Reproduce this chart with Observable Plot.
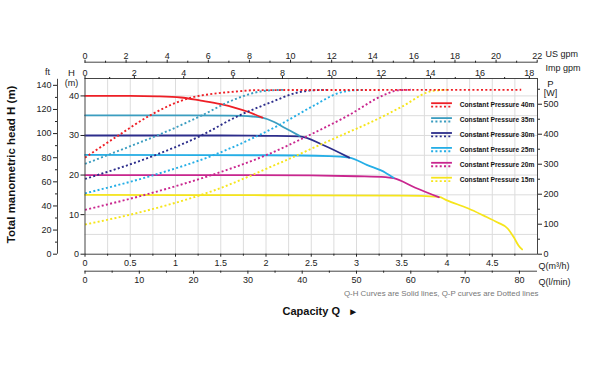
<!DOCTYPE html>
<html><head><meta charset="utf-8">
<script src="https://cdn.jsdelivr.net/npm/d3@7"></script>
<script src="https://cdn.jsdelivr.net/npm/@observablehq/plot@0.6"></script>
<style>
html,body{margin:0;padding:0;background:#fff;}
</style></head><body><div id="chart"></div>
<script>
// ---- series ----
const seriesNames = ["Constant Pressure 40m","Constant Pressure 35m","Constant Pressure 30m","Constant Pressure 25m","Constant Pressure 20m","Constant Pressure 15m"];
const seriesColors = ["#ee1f26","#3b9dc0","#2c2d8b","#25aee6","#c9268e","#f6e51b"];

// Q-H curves (solid): Q in m3/h, H in m
const qh40Q = [0, 0.5, 0.8, 1.06, 1.28, 1.5, 1.66, 1.8, 1.96];
const qh40H = [40.0, 40.0, 39.9, 39.6, 38.8, 37.9, 37.0, 36.0, 34.5];
const qh35Q = [0, 1.0, 1.61, 1.85, 1.96, 2.09, 2.21, 2.37];
const qh35H = [35.1, 35.1, 35.0, 34.8, 34.5, 33.4, 31.9, 29.9];
const qh30Q = [0, 1.5, 2.0, 2.37, 2.63, 2.92];
const qh30H = [30.0, 30.0, 29.9, 29.8, 27.6, 24.4];
const qh25Q = [0, 2.0, 2.7, 2.92, 3.12, 3.32, 3.41];
const qh25H = [25.1, 25.0, 24.8, 24.4, 22.5, 20.6, 19.3];
const qh20Q = [0, 1.5, 2.5, 3.0, 3.32, 3.41, 3.65, 3.91];
const qh20H = [20.0, 20.0, 19.9, 19.7, 19.5, 19.2, 16.8, 14.4];
const qh15Q = [0, 2.0, 3.5, 3.91, 4.0, 4.23, 4.40, 4.56, 4.67, 4.74, 4.79, 4.83];
const qh15H = [15.0, 14.9, 14.8, 14.5, 13.6, 11.6, 9.8, 8.0, 6.5, 4.2, 2.2, 1.2];

// Q-P curves (dotted): Q in m3/h, P in W
const qp40Q = [0, 0.39, 0.72, 1.17, 1.45, 1.66, 1.9, 4.82];
const qp40P = [322, 400, 463, 522, 536, 542, 547, 548];
const qp35Q = [0, 0.5, 0.8, 1.28, 1.66, 1.97, 2.2];
const qp35P = [301, 360, 396, 461, 517, 544, 548];
const qp30Q = [0, 0.8, 1.28, 1.66, 2.05, 2.35, 2.5, 2.7];
const qp30P = [251, 333, 395, 456, 506, 539, 546, 548];
const qp25Q = [0, 0.74, 1.46, 2.16, 2.52, 2.82, 2.95, 3.1];
const qp25P = [203, 262, 335, 433, 494, 539, 546, 548];
const qp20Q = [0, 0.7, 1.42, 2.0, 2.5, 2.9, 3.32, 3.45, 3.6];
const qp20P = [148, 201, 266, 330, 400, 461, 533, 546, 548];
const qp15Q = [0, 0.69, 1.42, 2.12, 2.71, 3.27, 3.49, 3.85, 4.0];
const qp15P = [99, 146, 212, 300, 380, 456, 490, 545, 548];

const qhQ = [qh40Q, qh35Q, qh30Q, qh25Q, qh20Q, qh15Q];
const qhH = [qh40H, qh35H, qh30H, qh25H, qh20H, qh15H];
const qpQ = [qp40Q, qp35Q, qp30Q, qp25Q, qp20Q, qp15Q];
const qpP = [qp40P, qp35P, qp30P, qp25P, qp20P, qp15P];

// ---- tick labels ----
const hTicks = [0, 10, 20, 30, 40];
const ftTicks = [0, 20, 40, 60, 80, 100, 120, 140];
const ftMinor = [10, 30, 50, 70, 90, 110, 130];
const pTicks = [0, 100, 200, 300, 400, 500];
const pMinor = [50, 150, 250, 350, 450, 550];
const qTicks = [0, 0.5, 1, 1.5, 2, 2.5, 3, 3.5, 4, 4.5];
const qMinor = [0.25, 0.75, 1.25, 1.75, 2.25, 2.75, 3.25, 3.75, 4.25, 4.75];
const lminTicks = [0, 10, 20, 30, 40, 50, 60, 70, 80];
const lminMinor = [5, 15, 25, 35, 45, 55, 65, 75];
const usTicks = [0, 2, 4, 6, 8, 10, 12, 14, 16, 18, 20, 22];
const usMinor = [1, 3, 5, 7, 9, 11, 13, 15, 17, 19, 21];
const impTicks = [0, 2, 4, 6, 8, 10, 12, 14, 16, 18];
const impMinor = [1, 3, 5, 7, 9, 11, 13, 15, 17];
const qGrid = [0.25,0.5,0.75,1,1.25,1.5,1.75,2,2.25,2.5,2.75,3,3.25,3.5,3.75,4,4.25,4.5,4.75];
const hGrid = [5, 10, 15, 20, 25, 30, 35, 40];

// unit conversions
const FT = 0.3048;      // m per ft
const PK = 0.0758;      // m-equivalent per W on shared y
const US = 4.4029;      // US gpm per m3/h
const IMP = 3.6662;     // Imp gpm per m3/h
const LM = 16.6667;     // l/min per m3/h
const HMAX = 44.4;

// legend layout (in scale units)
const legX1 = 3.83, legX2 = 4.06, legTx = 4.14;
const pxPerM = 175.7 / HMAX;
const legRowH = i => (253.7 - (102.7 + i * 14.9)) / pxPerM;

const none = () => "";
const font = "'Liberation Sans', Arial, sans-serif";
const lbl = (s, o) => Plot.text([s], Object.assign({text: d => d, textAnchor: "middle", lineAnchor: "middle", fontSize: 9, fill: "#222"}, o));

const marks = [
  Plot.ruleX(qGrid, {stroke: "#dcdcdc", strokeWidth: 1}),
  Plot.ruleY(hGrid, {stroke: "#dcdcdc", strokeWidth: 1}),
];

// solid Q-H
for (let i = 5; i >= 0; i--) {
  marks.push(Plot.line(d3.zip(qhQ[i], qhH[i]), {x: d => d[0], y: d => d[1], stroke: seriesColors[i], strokeWidth: 1.8, curve: "monotone-x"}));
}
// dotted Q-P
for (let i = 5; i >= 0; i--) {
  marks.push(Plot.line(d3.zip(qpQ[i], qpP[i]), {x: d => d[0], y: d => d[1] * PK, stroke: seriesColors[i], strokeWidth: 1.9, strokeDasharray: "2,2.3", strokeLinecap: "butt", curve: "monotone-x"}));
}
// legend
for (let i = 0; i < 6; i++) {
  const y0 = legRowH(i);
  marks.push(Plot.ruleY([y0], {x1: () => legX1, x2: () => legX2, y: d => d, stroke: seriesColors[i], strokeWidth: 1.8}));
  marks.push(Plot.ruleY([y0 - 3.4 / pxPerM], {x1: () => legX1, x2: () => legX2, y: d => d, stroke: seriesColors[i], strokeWidth: 1.9, strokeDasharray: "2,2.3", strokeLinecap: "butt"}));
  marks.push(Plot.text([seriesNames[i]], {x: () => legTx, y: () => y0 - 1.9 / pxPerM, text: d => d, textAnchor: "start", lineAnchor: "middle", fontSize: 6.7, fontWeight: "bold", fill: "#111"}));
}

marks.push(
  Plot.frame({stroke: "#444", strokeWidth: 1}),
  // H (m) axis
  Plot.axisY({ticks: hTicks, anchor: "left", tickSize: 4, tickPadding: 2, label: null, fontSize: 9}),
  // ft axis
  Plot.ruleX([0], {y1: () => 0, y2: () => 145 * FT, dx: -27.5, stroke: "#444"}),
  Plot.axisY({ticks: ftTicks.map(f => f * FT), anchor: "left", dx: -27.5, tickSize: 4, tickPadding: 2, tickFormat: d => Math.round(d / FT), label: null, fontSize: 9}),
  Plot.axisY({ticks: ftMinor.map(f => f * FT), anchor: "left", dx: -27.5, tickSize: 2, tickFormat: none, label: null}),
  // P axis
  Plot.axisY({ticks: pTicks.map(p => p * PK), anchor: "right", tickSize: 4, tickPadding: 2, tickFormat: d => Math.round(d / PK), label: null, fontSize: 9}),
  Plot.axisY({ticks: pMinor.map(p => p * PK), anchor: "right", tickSize: 2, tickFormat: none, label: null}),
  // bottom m3/h
  Plot.axisX({ticks: qTicks, anchor: "bottom", tickSize: 3, tickPadding: 2, tickFormat: d => String(d), label: null, fontSize: 9}),
  Plot.axisX({ticks: qMinor, anchor: "bottom", tickSize: 2, tickFormat: none, label: null}),
  // bottom l/min
  Plot.ruleY([0], {x1: () => 0, x2: () => 5, dy: 17, stroke: "#444"}),
  Plot.axisX({ticks: lminTicks.map(v => v / LM), anchor: "bottom", dy: 17, tickSize: 3, tickPadding: 2, tickFormat: d => Math.round(d * LM), label: null, fontSize: 9}),
  Plot.axisX({ticks: lminMinor.map(v => v / LM), anchor: "bottom", dy: 17, tickSize: 2, tickFormat: none, label: null}),
  // top US gpm
  Plot.ruleY([HMAX], {x1: () => 0, x2: () => 5, dy: -16.3, stroke: "#444"}),
  Plot.axisX({ticks: usTicks.map(g => g / US), anchor: "top", dy: -16.3, tickSize: 3, tickPadding: 0, tickFormat: d => Math.round(d * US), label: null, fontSize: 9}),
  Plot.axisX({ticks: usMinor.map(g => g / US), anchor: "top", dy: -16.3, tickSize: 2, tickFormat: none, label: null}),
  // top Imp gpm
  Plot.axisX({ticks: impTicks.map(g => g / IMP), anchor: "top", tickSize: 3, tickPadding: 0, tickFormat: d => Math.round(d * IMP), label: null, fontSize: 9}),
  Plot.axisX({ticks: impMinor.map(g => g / IMP), anchor: "top", tickSize: 2, tickFormat: none, label: null}),
  // axis unit labels
  lbl("ft", {frameAnchor: "top-left", dx: -37.5, dy: -6}),
  lbl("H", {frameAnchor: "top-left", dx: -13.5, dy: -6, fontSize: 9.5}),
  lbl("(m)", {frameAnchor: "top-left", dx: -13.5, dy: 4.5}),
  lbl("P", {frameAnchor: "top-right", dx: 13, dy: 5, fontSize: 9.5}),
  lbl("[W]", {frameAnchor: "top-right", dx: 13, dy: 14.5}),
  lbl("US gpm", {frameAnchor: "top-right", dx: 8, dy: -24, textAnchor: "start"}),
  lbl("Imp gpm", {frameAnchor: "top-right", dx: 8, dy: -10, textAnchor: "start"}),
  lbl("Q(m³/h)", {frameAnchor: "bottom-right", dx: 1, dy: 12, textAnchor: "start"}),
  lbl("Q(l/min)", {frameAnchor: "bottom-right", dx: 1, dy: 27.5, textAnchor: "start"}),
  // titles
  lbl("Total manometric head H (m)", {frameAnchor: "left", dx: -73.5, dy: -2, rotate: -90, fontSize: 11.5, fontWeight: "bold", fill: "#111"}),
  lbl("Capacity Q", {frameAnchor: "bottom", dx: 0, dy: 57.3, fontSize: 11, fontWeight: "bold", fill: "#111"}),
  lbl("►", {frameAnchor: "bottom", dx: 42, dy: 57.3, fontSize: 10, fill: "#111"}),
  lbl("Q-H Curves are Solid lines, Q-P curves are Dotted lines", {frameAnchor: "bottom-right", dx: 1, dy: 39.6, textAnchor: "end", fontSize: 7.9, fill: "#777"})
);

const chart = Plot.plot({
  width: 600,
  height: 365,
  marginLeft: 84.5,
  marginRight: 63,
  marginTop: 78,
  marginBottom: 111.3,
  x: {domain: [0, 5], axis: null},
  y: {domain: [0, HMAX], axis: null},
  style: {fontFamily: font, fontSize: "9px", background: "#fff", color: "#222"},
  marks
});
document.getElementById("chart").appendChild(chart);
</script>
</body></html>
